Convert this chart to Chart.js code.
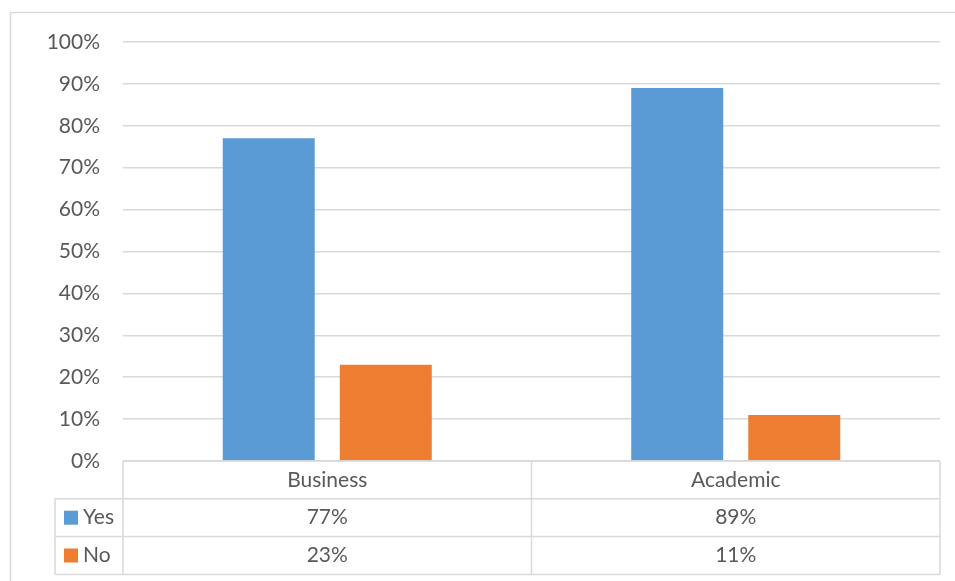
<!DOCTYPE html>
<html>
<head>
<meta charset="utf-8">
<script src="https://cdn.jsdelivr.net/npm/chart.js@4/dist/chart.umd.min.js"></script>
<style>
  html, body { margin: 0; padding: 0; background: #fff; }
  #wrap { width: 955px; height: 581px; position: relative; }
</style>
</head>
<body>
<div id="wrap"><canvas id="c" width="955" height="581"></canvas></div>
<script>
// Survey answers by group (percent)
const categories = ['Business', 'Academic'];
const seriesNames = ['Yes', 'No'];
const yesValues = [77, 89];
const noValues = [23, 11];
const yTicks = [0, 10, 20, 30, 40, 50, 60, 70, 80, 90, 100];

const colors = ['#5B9BD5', '#ED7D31'];
const lineColor = '#D9D9D9';
const textColor = '#595959';
const fontFamily = 'Lato, "Open Sans", "Liberation Sans", sans-serif';
const fontSize = 21;

const seriesValues = [yesValues, noValues];

// Outer frame of the chart
const framePlugin = {
  id: 'frame',
  beforeDraw(chart) {
    const ctx = chart.ctx;
    ctx.save();
    ctx.fillStyle = '#fff';
    ctx.fillRect(0, 0, chart.width, chart.height);
    ctx.strokeStyle = lineColor;
    ctx.lineWidth = 1.5;
    ctx.strokeRect(10.5, 12.5, chart.width + 20, chart.height + 20);
    ctx.restore();
  }
};

// Data table under the plot: category header row, then one row per series
const tablePlugin = {
  id: 'dataTable',
  afterDraw(chart) {
    const ctx = chart.ctx;
    const area = chart.chartArea;
    const x = chart.scales.x;
    const left = area.left, right = area.right;
    const legendLeft = 55;
    const rowH = 37.8;
    const top = area.bottom;
    const rows = [top, top + rowH, top + 2 * rowH, top + 3 * rowH];
    const n = categories.length;
    const colEdges = [];
    for (let i = 0; i <= n; i++) colEdges.push(left + (right - left) * i / n);

    ctx.save();
    ctx.strokeStyle = lineColor;
    ctx.lineWidth = 1.5;
    ctx.beginPath();
    // header row
    ctx.moveTo(left, rows[0]); ctx.lineTo(right, rows[0]);
    // series rows span the legend column too
    for (let r = 1; r < rows.length; r++) {
      ctx.moveTo(legendLeft, rows[r]); ctx.lineTo(right, rows[r]);
    }
    // vertical lines
    ctx.moveTo(legendLeft, rows[1]); ctx.lineTo(legendLeft, rows[3]);
    colEdges.forEach(cx => { ctx.moveTo(cx, rows[0]); ctx.lineTo(cx, rows[3]); });
    ctx.stroke();

    ctx.fillStyle = textColor;
    ctx.font = fontSize + 'px ' + fontFamily;
    ctx.textAlign = 'center';
    ctx.textBaseline = 'middle';
    categories.forEach((c, i) => {
      const cx = x.getPixelForValue(i);
      ctx.fillText(c, cx, (rows[0] + rows[1]) / 2);
      seriesValues.forEach((vals, s) => {
        ctx.fillText(vals[i] + '%', cx, (rows[s + 1] + rows[s + 2]) / 2);
      });
    });

    // legend keys
    ctx.textAlign = 'left';
    seriesNames.forEach((name, s) => {
      const cy = (rows[s + 1] + rows[s + 2]) / 2;
      ctx.fillStyle = colors[s];
      ctx.fillRect(64, cy - 7, 14, 14);
      ctx.fillStyle = textColor;
      ctx.fillText(name, 83, cy);
    });
    ctx.restore();
  }
};

new Chart(document.getElementById('c'), {
  type: 'bar',
  data: {
    labels: categories,
    datasets: seriesNames.map((name, s) => ({
      label: name,
      data: seriesValues[s],
      backgroundColor: colors[s],
      borderWidth: 0,
      categoryPercentage: 0.573,
      barPercentage: 0.786
    }))
  },
  options: {
    responsive: false,
    animation: false,
    layout: { padding: { left: 0, right: 15, top: 42, bottom: 120 } },
    plugins: {
      legend: { display: false },
      tooltip: { enabled: false }
    },
    scales: {
      x: {
        display: false
      },
      y: {
        min: 0,
        max: 100,
        afterBuildTicks(scale) { scale.ticks = yTicks.map(v => ({ value: v })); },
        afterFit(scale) { scale.width = 123; },
        border: { display: false },
        grid: { color: lineColor, lineWidth: 1.5, drawTicks: false },
        ticks: {
          padding: 23,
          color: textColor,
          font: { family: fontFamily, size: fontSize },
          callback: v => v + '%'
        }
      }
    }
  },
  plugins: [framePlugin, tablePlugin]
});
</script>
</body>
</html>
